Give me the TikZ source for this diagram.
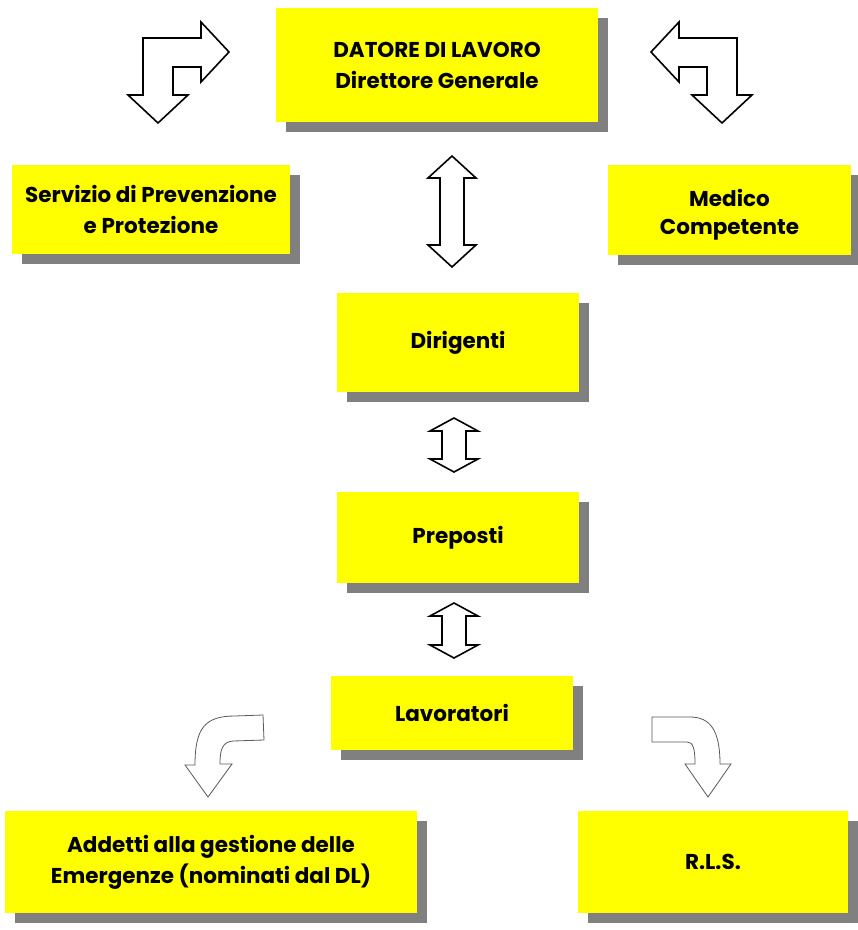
\documentclass[tikz,border=0pt]{standalone}
\usepackage{fontspec}
\setmainfont{Poppins}
\usetikzlibrary{shadows}
\definecolor{giallo}{RGB}{255,255,0}
\tikzset{ruolo/.style={fill=giallo, align=center, inner sep=0pt, font=\bfseries\fontsize{21.5}{31}\selectfont,
    drop shadow={shadow xshift=10pt, shadow yshift=-10pt, fill=black!50, opacity=1}}}
\tikzset{freccia/.style={draw=black, fill=white, line width=1.6pt, line join=miter}}
\tikzset{curva/.style={draw=black!65, fill=white, line width=0.8pt}}
\newcommand{\doppia}[4]{\draw[freccia] (#1,#2) -- (#1+24,#2+#4) -- (#1+12,#2+#4) -- (#1+12,#3-#4) -- (#1+24,#3-#4)
    -- (#1,#3) -- (#1-24,#3-#4) -- (#1-12,#3-#4) -- (#1-12,#2+#4) -- (#1-24,#2+#4) -- cycle;}

\begin{document}
\begin{tikzpicture}[x=1pt, y=-1pt]
    \useasboundingbox (0,0) rectangle (858,930);
    \node[ruolo, minimum width=322pt, minimum height=114pt] (datore) at (437,65) {DATORE DI LAVORO\\Direttore Generale};
    \node[ruolo, minimum width=278pt, minimum height=89pt] (spp) at (151,209.5) {Servizio di Prevenzione\\e Protezione};
    \node[ruolo, minimum width=243pt, minimum height=90pt] (medico) at (729.5,210) {\\[-4pt]Medico\\[-3pt]Competente};
    \node[ruolo, minimum width=242pt, minimum height=99pt] (dirigenti) at (458,342.5) {Dirigenti};
    \node[ruolo, minimum width=242pt, minimum height=91pt] (preposti) at (458,537.5) {Preposti};
    \node[ruolo, minimum width=242pt, minimum height=74pt] (lavoratori) at (452,713) {Lavoratori};
    \node[ruolo, minimum width=412pt, minimum height=102pt] (addetti) at (211,862) {Addetti alla gestione delle\\Emergenze (nominati dal DL)};
    \node[ruolo, minimum width=270pt, minimum height=102pt] (rls) at (713,862) {R.L.S.};
    \foreach \s/\o in {1/0, -1/880}
        \draw[freccia, xshift=\o pt, xscale=\s] (229,52) -- (201,22) -- (201,38) -- (143,38) -- (143,95) -- (128,95)
            -- (158,123) -- (188,95) -- (173,95) -- (173,67) -- (201,67) -- (201,82) -- cycle;
    \doppia{452}{156}{267}{22}
    \doppia{454}{418}{472}{13}
    \doppia{454}{603}{658}{13}
    \draw[curva] (263,715) -- (264,740) -- (233,741) .. controls (222,742) and (220,750) .. (220,764) -- (232,764)
        -- (208,797) -- (185,765) -- (195,765) .. controls (195,728) and (205,716) .. (235,716) -- cycle;
    \draw[curva] (652,717) -- (652,742) -- (687,742) .. controls (693,742) and (695,748) .. (695,764) -- (685,764)
        -- (708,797) -- (731,764) -- (720,764) .. controls (720,730) and (710,717) .. (690,717) -- cycle;
\end{tikzpicture}
\end{document}
